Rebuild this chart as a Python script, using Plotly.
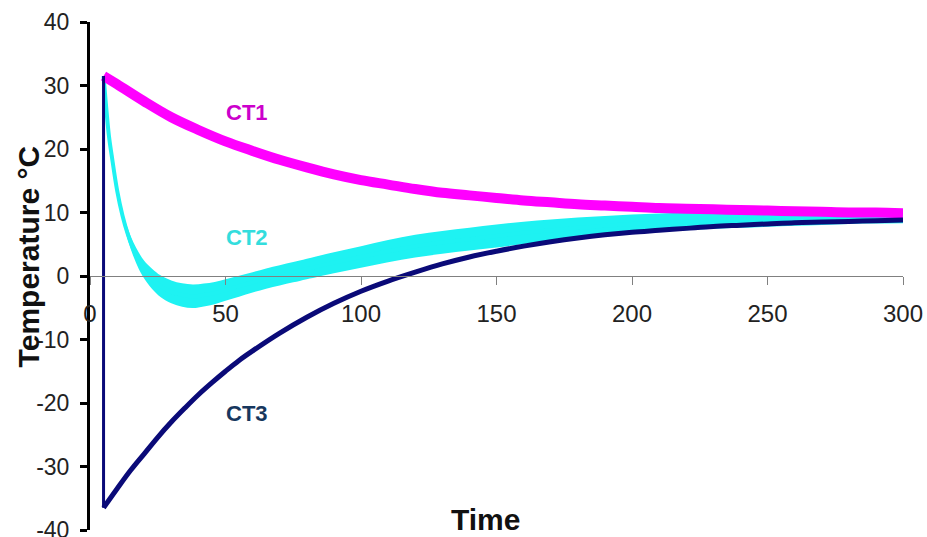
import plotly.graph_objects as go

# Time samples for CT2
t = [5, 7, 8, 10, 12, 14, 16, 18, 20, 23, 26, 30, 34, 38, 42, 46, 50, 55, 60, 65, 70, 75,
     80, 90, 100, 110, 120, 130, 140, 150, 160, 170, 180, 190, 200, 210, 220, 230, 240,
     250, 260, 270, 280, 290, 300]

# CT1: slow cooling from the start temperature
ct1_t = [5, 10, 20, 30, 40, 50, 60, 70, 80, 90, 100, 110, 120, 130, 140, 150, 160, 170,
         180, 190, 200, 210, 220, 230, 240, 250, 260, 270, 280, 290, 300]
ct1 = [31.5, 30.2, 27.5, 25.0, 23.0, 21.2, 19.7, 18.3, 17.1, 16.0, 15.1, 14.4, 13.7, 13.1,
       12.7, 12.3, 11.9, 11.6, 11.3, 11.1, 10.9, 10.7, 10.6, 10.5, 10.4, 10.3, 10.2, 10.1,
       10.0, 10.0, 9.9]

# CT2: fast drop, undershoot below zero, then recovery (noisy band: mid +/- spread)
ct2_mid = [31.5, 22.0, 19.0, 13.5, 9.5, 6.5, 4.2, 2.4, 1.0, -0.5, -1.6, -2.5, -3.0, -3.2,
           -3.0, -2.7, -2.2, -1.6, -1.0, -0.4, 0.1, 0.6, 1.1, 2.1, 3.0, 3.9, 4.7, 5.3, 5.8,
           6.3, 6.8, 7.2, 7.6, 7.9, 8.2, 8.4, 8.6, 8.8, 8.9, 9.0, 9.1, 9.2, 9.3, 9.35, 9.4]
ct2_spread = [0.2, 0.4, 0.5, 0.6, 0.7, 0.9, 1.1, 1.3, 1.4, 1.6, 1.7, 1.8, 1.85, 1.85, 1.8,
              1.75, 1.7, 1.65, 1.6, 1.6, 1.6, 1.6, 1.6, 1.65, 1.7, 1.75, 1.8, 1.8, 1.8,
              1.8, 1.75, 1.7, 1.6, 1.55, 1.5, 1.45, 1.4, 1.35, 1.3, 1.25, 1.2, 1.15, 1.1,
              1.1, 1.1]

# CT3: step down to the cold value at t=5, then warming back
ct3_t = [5, 5, 10, 15, 20, 25, 30, 35, 40, 45, 50, 55, 60, 70, 80, 90, 100, 110, 120, 130,
         140, 150, 160, 170, 180, 190, 200, 210, 220, 230, 240, 250, 260, 270, 280, 290, 300]
ct3 = [31.5, -36.5, -33.5, -30.6, -28.0, -25.4, -23.0, -20.8, -18.7, -16.8, -15.0, -13.3,
       -11.8, -9.0, -6.5, -4.3, -2.4, -0.8, 0.6, 1.9, 3.0, 3.9, 4.7, 5.4, 6.0, 6.5, 6.9,
       7.2, 7.5, 7.8, 8.0, 8.2, 8.4, 8.5, 8.6, 8.7, 8.8]

x_ticks = [0, 50, 100, 150, 200, 250, 300]
y_ticks = [-40, -30, -20, -10, 0, 10, 20, 30, 40]

MAGENTA = "#FF00FF"
CYAN = "#1EF2F2"
NAVY = "#0A0A78"
FONT = "Liberation Sans, Arial, sans-serif"

ct2_low = [m - s for m, s in zip(ct2_mid, ct2_spread)]
ct2_high = [m + s for m, s in zip(ct2_mid, ct2_spread)]

fig = go.Figure()

# CT2 band
fig.add_trace(go.Scatter(x=t, y=ct2_low, mode="lines", line=dict(width=0, color=CYAN, shape="spline"),
                         showlegend=False, hoverinfo="skip"))
fig.add_trace(go.Scatter(x=t, y=ct2_high, mode="lines", line=dict(width=0, color=CYAN, shape="spline"),
                         fill="tonexty", fillcolor=CYAN, showlegend=False, hoverinfo="skip"))
fig.add_trace(go.Scatter(x=t, y=ct2_mid, mode="lines", name="CT2",
                         line=dict(width=4, color=CYAN, shape="spline"), showlegend=False))

# CT1
fig.add_trace(go.Scatter(x=ct1_t, y=ct1, mode="lines", name="CT1",
                         line=dict(width=10, color=MAGENTA, shape="spline"), showlegend=False))

# CT3: vertical step, then smooth recovery
fig.add_trace(go.Scatter(x=ct3_t[:2], y=ct3[:2], mode="lines", name="CT3",
                         line=dict(width=3, color=NAVY), showlegend=False))
fig.add_trace(go.Scatter(x=ct3_t[1:], y=ct3[1:], mode="lines", name="CT3",
                         line=dict(width=5, color=NAVY, shape="spline"), showlegend=False))

labels = [("CT1", 58, 25.7, "#CC00CC"), ("CT2", 58, 6.0, "#33DDDD"), ("CT3", 58, -21.7, "#17375E")]
for text, lx, ly, col in labels:
    fig.add_annotation(x=lx, y=ly, text=f"<b>{text}</b>", showarrow=False,
                       font=dict(family=FONT, size=22, color=col))

fig.add_annotation(xref="paper", yref="paper", x=-0.076, y=0.539, xanchor="center",
                   yanchor="middle", text="<b>Temperature °C</b>", textangle=-90,
                   showarrow=False, font=dict(family=FONT, size=30, color="#111"))
fig.add_annotation(xref="paper", yref="paper", x=0.487, y=0.02, xanchor="center",
                   yanchor="middle", text="<b>Time</b>",
                   showarrow=False, font=dict(family=FONT, size=30, color="#111"))

fig.update_layout(
    width=927, height=537,
    margin=dict(l=90, r=24, t=22, b=7, autoexpand=False),
    paper_bgcolor="white", plot_bgcolor="white",
    xaxis=dict(range=[0, 300], tickvals=x_ticks, ticktext=[str(v) for v in x_ticks],
               anchor="free", position=0.5, showline=True, linecolor="#808080", linewidth=1,
               ticks="outside", ticklen=8, tickwidth=1, tickcolor="#808080",
               ticklabelstandoff=8, showgrid=False, zeroline=False, automargin=False,
               tickfont=dict(family=FONT, size=24, color="#222")),
    yaxis=dict(range=[-40, 40], tickvals=y_ticks, ticktext=[str(v) for v in y_ticks],
               showline=True, linecolor="black", linewidth=3,
               ticks="outside", ticklen=7, tickwidth=3, tickcolor="black",
               ticklabelstandoff=6, ticklabeloverflow="allow", showgrid=False, zeroline=False,
               automargin=False, tickfont=dict(family=FONT, size=23, color="#222")),
)

fig.write_html("out.html")
